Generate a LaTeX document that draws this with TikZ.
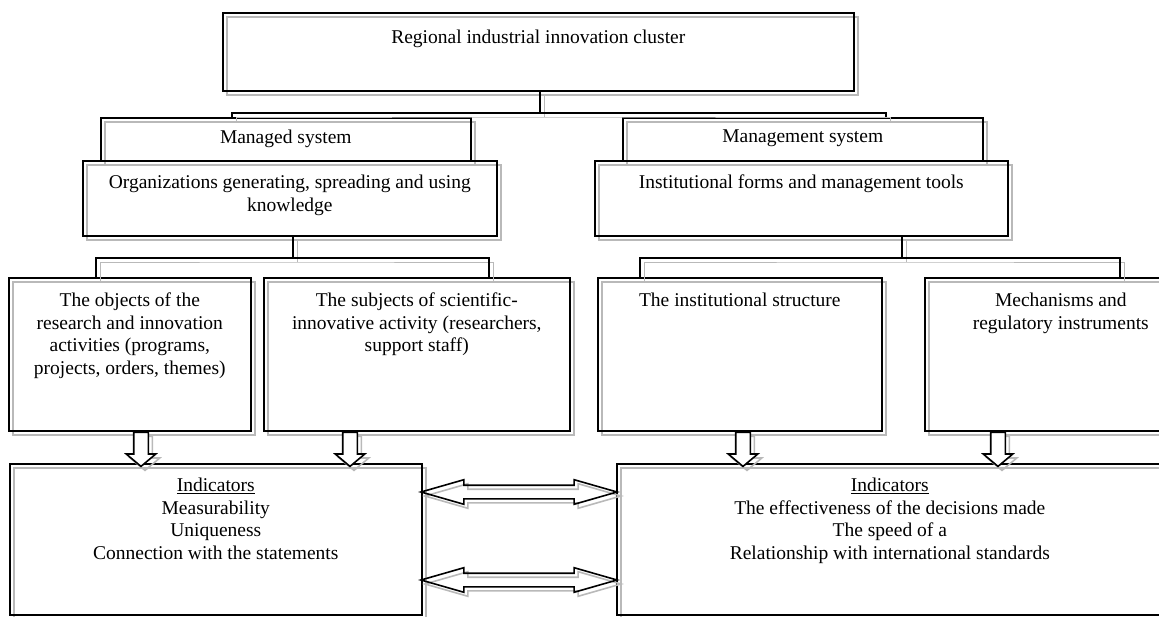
\documentclass[tikz,border=0pt]{standalone}
\usepackage{fontspec}
\setmainfont{Liberation Serif}
\usetikzlibrary{positioning,shapes.arrows}
\tikzset{
  box/.style={draw, line width=1.6pt, inner sep=0pt, anchor=north west,
    preaction={draw=gray!55, line width=1.6pt, transform canvas={shift={(4pt,-4pt)}}}},
  txt/.style={anchor=north, align=center, inner sep=0pt, font=\fontsize{19.5}{22.5}\selectfont},
  link/.style={line width=1.6pt, preaction={draw=gray!55, transform canvas={shift={(4pt,-4pt)}}}},
  downarrow/.style={single arrow, draw, fill=white, line width=1.6pt, shape border rotate=270,
    inner sep=6.5pt, single arrow head extend=7.5pt, single arrow tip angle=100, minimum height=34pt,
    preaction={draw=gray!55, transform canvas={shift={(4pt,-4pt)}}}},
  twoarrow/.style={double arrow, draw, line width=1.6pt, inner sep=6pt,
    double arrow head extend=5.5pt, double arrow tip angle=32, minimum height=196pt,
    preaction={draw=gray!55, transform canvas={shift={(4pt,-4pt)}}}}
}
\begin{document}
\begin{tikzpicture}[x=1pt,y=-1pt]
\useasboundingbox (0,0) rectangle (1159,617);
\node[box, minimum width=631pt, minimum height=78pt] (top) at (222,12) {};
\node[box, minimum width=370pt, minimum height=43pt] (managed) at (100,117) {};
\node[box, minimum width=360pt, minimum height=43pt] (management) at (622,117) {};
\node[box, minimum width=414pt, minimum height=75pt] (org) at (82,160) {};
\node[box, minimum width=413pt, minimum height=75pt] (inst) at (594,160) {};
\node[box, minimum width=242pt, minimum height=153pt] (objects) at (8,277) {};
\node[box, minimum width=306pt, minimum height=153pt] (subjects) at (263,277) {};
\node[box, minimum width=284pt, minimum height=153pt] (structure) at (597,277) {};
\node[box, minimum width=272pt, minimum height=153pt] (mech) at (924,277) {};
\node[box, minimum width=412pt, minimum height=151pt] (ind1) at (9,463) {};
\node[box, minimum width=546pt, minimum height=151pt] (ind2) at (616,463) {};

\node[txt] (top-t) at ([yshift=-18pt]top.north) {Regional industrial innovation cluster};
\node[txt] (managed-t) at ([yshift=-13pt]managed.north) {Managed system};
\node[txt] (management-t) at ([yshift=-13pt]management.north) {Management system};
\node[txt] (org-t) at ([yshift=-15pt]org.north) {Organizations generating, spreading and using\\knowledge};
\node[txt] (inst-t) at ([yshift=-15pt]inst.north) {Institutional forms and management tools};
\node[txt] (objects-t) at ([yshift=-16pt]objects.north) {The objects of the\\research and innovation\\activities (programs,\\projects, orders, themes)};
\node[txt] (subjects-t) at ([yshift=-16pt]subjects.north) {The subjects of scientific-\\innovative activity (researchers,\\support staff)};
\node[txt] (structure-t) at ([yshift=-16pt]structure.north) {The institutional structure};
\node[txt] (mech-t) at ([yshift=-16pt]mech.north) {Mechanisms and\\regulatory instruments};
\node[txt] (ind1-t) at ([yshift=-15pt]ind1.north) {\underline{Indicators}\\Measurability\\Uniqueness\\Connection with the statements};
\node[txt] (ind2-t) at ([yshift=-15pt]ind2.north) {\underline{Indicators}\\The effectiveness of the decisions made\\The speed of a\\Relationship with international standards};

\coordinate (tj) at (540,113);
\coordinate (lj) at (293,258);
\coordinate (rj) at (902,258);
\draw[link] (top.south -| tj) -- (tj);
\draw[link] (managed.north -| 232,0) |- (tj) -| (management.north -| 886,0);
\draw[link] (org.south -| lj) -- (lj);
\draw[link] (objects.north -| 96,0) |- (lj) -| (subjects.north -| 489,0);
\draw[link] (inst.south -| rj) -- (rj);
\draw[link] (structure.north -| 640,0) |- (rj) -| (mech.north -| 1120,0);

\node[downarrow, anchor=tail] (a1) at (objects.south -| 141,0) {};
\node[downarrow, anchor=tail] (a2) at (subjects.south -| 350,0) {};
\node[downarrow, anchor=tail] (a3) at (structure.south -| 743,0) {};
\node[downarrow, anchor=tail] (a4) at (mech.south -| 998,0) {};

\node[twoarrow] (b1) at (519,492) {};
\node[twoarrow] (b2) at (519,580) {};
\end{tikzpicture}
\end{document}
